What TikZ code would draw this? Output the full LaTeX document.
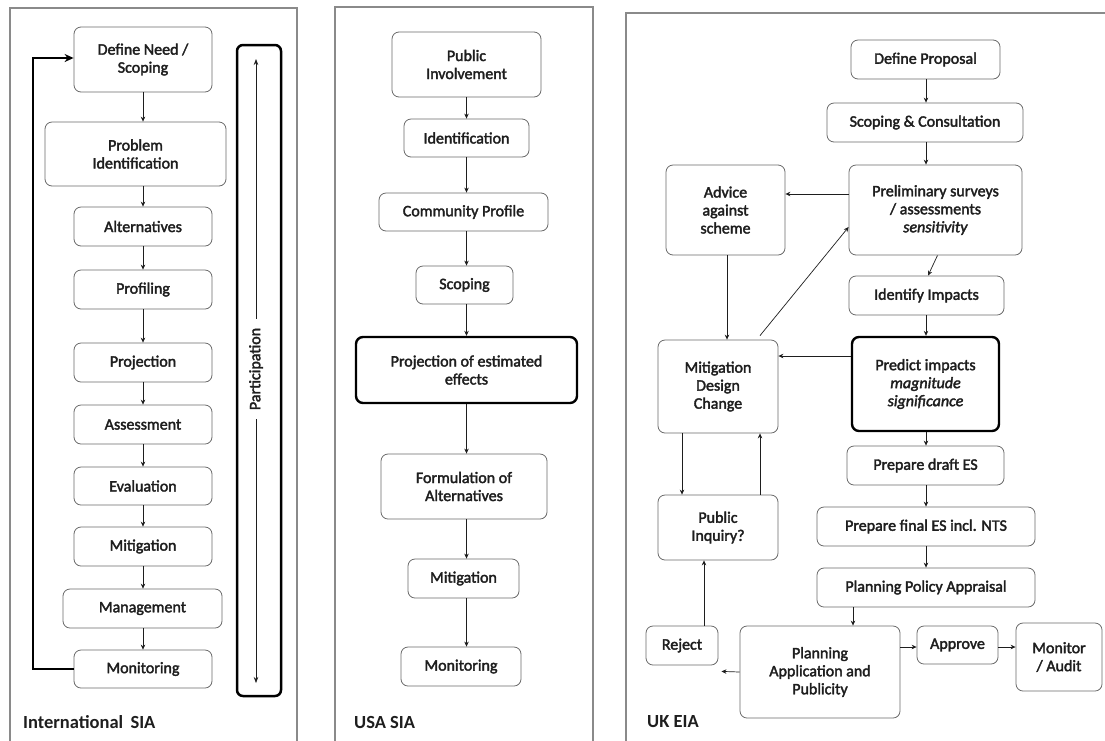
\documentclass[tikz,border=0pt]{standalone}
\usepackage{fontspec}
\setmainfont{Carlito}
\newfontfamily\boxfont{Carlito}[FakeBold=2.2]
\usetikzlibrary{arrows.meta}
\definecolor{edge}{HTML}{6A6A6A}
\definecolor{ink}{HTML}{1E1E1E}
\definecolor{frame}{HTML}{8A8A8A}
\tikzset{
  stepbox/.style={draw=edge, line width=0.8pt, rounded corners=7pt, align=center,
    inner sep=0pt, text=ink, font=\boxfont\fontsize{16}{18}\selectfont},
  keybox/.style={stepbox, draw=black, line width=2.4pt},
  sz/.style 2 args={minimum width=#1pt, minimum height=#2pt},
  arr/.style={draw=ink, line width=0.7pt, -{Stealth[length=5pt,width=4.5pt]}},
  loop/.style={draw=black, line width=2.6pt, -{Stealth[length=9pt,width=8pt]}},
  panel/.style={draw=frame, line width=1.4pt},
  tag/.style={anchor=west, text=ink, font=\fontsize{18.5}{21}\selectfont\bfseries, inner sep=0pt}
}
\begin{document}
\begin{tikzpicture}[x=1pt,y=-1pt]
\useasboundingbox (0,0) rectangle (1105,740);
\fill[white] (0,0) rectangle (1105,740);

% panel frames
\draw[panel] (10,745) -- (10,8) -- (297,8) -- (297,745);
\draw[panel] (335,745) -- (335,7) -- (593,7) -- (593,745);
\draw[panel] (626,745) -- (626,13) -- (1110,13);

% ---------- International SIA ----------
\node[stepbox, sz={138}{65}] (l1) at (143,59.5) {Define Need /\\Scoping};
\node[stepbox, sz={181}{64}] (l2) at (135.5,154) {Problem\\Identification};
\node[stepbox, sz={138}{39}] (l3) at (143,226.5) {Alternatives};
\node[stepbox, sz={138}{39}] (l4) at (143,289.5) {Profiling};
\node[stepbox, sz={138}{39}] (l5) at (143,362.5) {Projection};
\node[stepbox, sz={138}{39}] (l6) at (143,424.5) {Assessment};
\node[stepbox, sz={138}{38}] (l7) at (143,486) {Evaluation};
\node[stepbox, sz={138}{39}] (l8) at (143,546.5) {Mitigation};
\node[stepbox, sz={159}{39}] (l9) at (142.5,608.5) {Management};
\node[stepbox, sz={138}{38}] (l10) at (143,669) {Monitoring};

\foreach \a/\b in {l1/l2,l2/l3,l3/l4,l4/l5,l5/l6,l6/l7,l7/l8,l8/l9,l9/l10}
  \draw[arr] (\a.south -| 143,0) -- (\b.north -| 143,0);

\draw[loop] (l10.west) -- (33,669) |- ([yshift=1.5pt]l1.west);

% participation bar
\node[draw=black, line width=2.5pt, rounded corners=6pt, minimum width=44pt,
      minimum height=651pt, inner sep=0pt] (pbar) at (259,370.5) {};
\coordinate (ptop) at (256,59);
\coordinate (pbot) at (256,683);
\draw[draw=ink, line width=0.7pt, {Stealth[length=6pt,width=4.5pt]}-{Stealth[length=6pt,width=4.5pt]}] (ptop) -- (pbot);
\node[fill=white, rotate=90, inner xsep=9pt, inner ysep=2pt, text=ink,
      font=\boxfont\fontsize{16}{18}\selectfont] (ptxt) at (256,369) {Participation};

\node[tag] (t1) at (23,722) {International\, SIA};

% ---------- USA SIA ----------
\node[stepbox, sz={149}{65}] (m1) at (466.5,64.5) {Public\\Involvement};
\node[stepbox, sz={125}{38}] (m2) at (466.5,138) {Identification};
\node[stepbox, sz={169}{38}] (m3) at (463.5,212) {Community Profile};
\node[stepbox, sz={97}{38}] (m4) at (464.5,285) {Scoping};
\node[keybox, sz={221}{66}] (m5) at (466.5,370) {Projection of estimated\\effects};
\node[stepbox, sz={166}{65}] (m6) at (464,486.5) {Formulation of\\Alternatives};
\node[stepbox, sz={111}{39}] (m7) at (463.5,578.5) {Mitigation};
\node[stepbox, sz={120}{39}] (m8) at (461,666.5) {Monitoring};

\foreach \a/\b in {m1/m2,m2/m3,m3/m4,m4/m5,m5/m6,m6/m7,m7/m8}
  \draw[arr] (\a.south -| 466.5,0) -- (\b.north -| 466.5,0);

\node[tag] (t2) at (354,722) {USA SIA};

% ---------- UK EIA ----------
\node[stepbox, sz={149}{39}] (r1) at (925.5,59.5) {Define Proposal};
\node[stepbox, sz={196}{39}] (r2) at (925,122.5) {Scoping \& Consultation};
\node[stepbox, sz={119}{90}] (r3) at (725.5,210) {Advice\\against\\scheme};
\node[stepbox, sz={173}{90}] (r4) at (935.5,210) {Preliminary surveys\\/ assessments\\\textit{sensitivity}};
\node[stepbox, sz={155}{39}] (r5) at (926.5,295.5) {Identify Impacts};
\node[keybox, sz={147}{94}] (r6) at (925.5,384) {Predict impacts\\\textit{magnitude}\\\textit{significance}};
\node[stepbox, sz={120}{93}] (r7) at (718,386.5) {Mitigation\\Design\\Change};
\node[stepbox, sz={157}{39}] (r8) at (925.5,465.5) {Prepare draft ES};
\node[stepbox, sz={120}{65}] (r9) at (718,527.5) {Public\\Inquiry?};
\node[stepbox, sz={218}{39}] (r10) at (926,526.5) {Prepare final ES incl. NTS};
\node[stepbox, sz={218}{39}] (r11) at (926,587.5) {Planning Policy Appraisal};
\node[stepbox, sz={72}{39}] (r12) at (682,645.5) {Reject};
\node[stepbox, sz={160}{92}] (r13) at (820,672) {Planning\\Application and\\Publicity};
\node[stepbox, sz={81}{38}] (r14) at (957.5,645) {Approve};
\node[stepbox, sz={86}{68}] (r15) at (1059,657) {Monitor\\/ Audit};

\foreach \a/\b in {r1/r2,r2/r4,r5/r6,r6/r8,r8/r10,r10/r11}
  \draw[arr] (\a.south -| 926,0) -- (\b.north -| 926,0);
\draw[arr] ([xshift=2pt]r4.south) -- ([xshift=1.5pt]r5.north);
\draw[arr] (r4.west |- 0,194) -- (r3.east |- 0,194);
\draw[arr] ([xshift=42pt, yshift=4pt]r7.north) -- (r4.west |- 0,227);
\draw[arr] (r3.south -| 727,0) -- (r7.north -| 727,0);
\draw[arr] (r6.west |- 0,356) -- (r7.east |- 0,356);
\draw[arr] (r11.south -| 853,0) -- (r13.north -| 853,0);
\draw[arr] (r13.west) -- ([shift={(3pt,-6pt)}]r12.south east);
\draw[arr] (r13.east |- 0,647) -- (r14.west |- 0,647);
\draw[arr] (r14.east |- 0,647) -- (r15.west |- 0,647);
\draw[arr] (r12.north -| 704,0) -- (r9.south -| 704,0);
\draw[arr] (r7.south -| 682,0) -- (r9.north -| 682,0);
\draw[arr] (r9.north -| 760,0) -- (r7.south -| 760,0);

\node[tag] (t3) at (647,722) {UK EIA};
\end{tikzpicture}
\end{document}
